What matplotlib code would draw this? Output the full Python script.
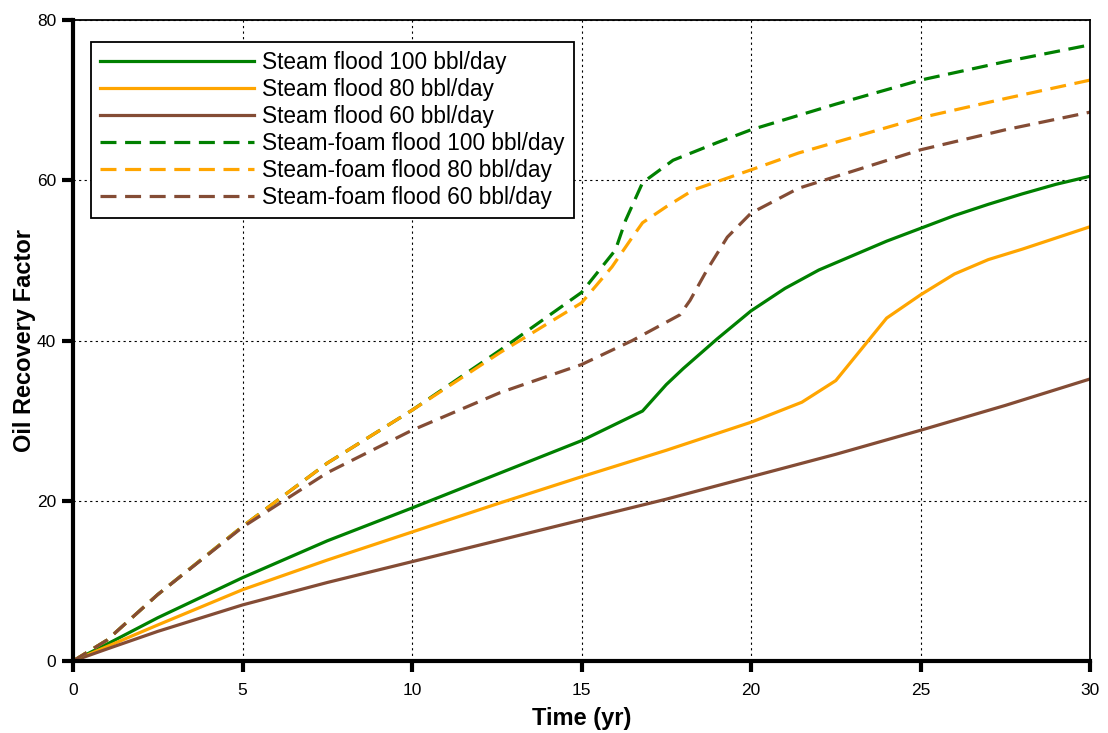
import matplotlib
matplotlib.use("Agg")
import matplotlib.pyplot as plt

plt.rcParams['font.family'] = ['Liberation Sans', 'DejaVu Sans']

# steam flood (solid)
sf100_t = [0, 1, 2.5, 5, 7.5, 10, 12.5, 15, 16.8, 17.5, 18, 19, 20, 21, 22, 23, 24, 25, 26, 27, 28, 29, 30]
sf100_y = [0, 2.1, 5.4, 10.4, 15, 19.1, 23.3, 27.5, 31.2, 34.5, 36.5, 40.2, 43.7, 46.5, 48.8, 50.6, 52.4, 54, 55.6, 57, 58.3, 59.5, 60.5]

sf80_t = [0, 1, 2.5, 5, 7.5, 10, 12.5, 15, 17.5, 20, 21.5, 22.5, 23, 23.5, 24, 25, 26, 27, 28, 29, 30]
sf80_y = [0, 1.8, 4.5, 8.9, 12.6, 16.1, 19.6, 23, 26.3, 29.8, 32.3, 35, 37.6, 40.2, 42.8, 45.7, 48.3, 50.1, 51.4, 52.8, 54.2]

sf60_t = [0, 1, 2.5, 5, 7.5, 10, 12.5, 15, 17.5, 20, 22.5, 25, 27.5, 30]
sf60_y = [0, 1.5, 3.7, 7.0, 9.8, 12.4, 15, 17.6, 20.2, 23, 25.8, 28.8, 31.9, 35.2]

# steam-foam flood (dashed)
sff100_t = [0, 1, 2.5, 5, 7.5, 10, 12.6, 15, 16.0, 16.3, 16.8, 17.7, 19, 20, 22.5, 25, 27.5, 30]
sff100_y = [0, 2.6, 8.3, 16.8, 24.7, 31.3, 38.8, 46, 51.3, 55, 59.7, 62.5, 64.7, 66.3, 69.5, 72.5, 74.8, 76.9]

sff80_t = [0, 1, 2.5, 5, 7.5, 10, 12.6, 15, 15.9, 16.5, 16.8, 17.5, 18.3, 20, 21.4, 25, 27.5, 30]
sff80_y = [0, 2.6, 8.3, 16.8, 24.7, 31.3, 38.5, 44.7, 49.2, 52.9, 54.7, 56.7, 58.8, 61.3, 63.4, 67.8, 70.2, 72.5]

sff60_t = [0, 1, 2.5, 5, 7.5, 10, 12.6, 15, 16.5, 17.9, 18.2, 18.7, 19.3, 20, 21.4, 25, 27.5, 30]
sff60_y = [0, 2.6, 8.3, 16.7, 23.5, 28.8, 33.5, 37, 40, 43.2, 45, 48.8, 52.9, 55.9, 59, 63.8, 66.3, 68.5]

green = '#008000'
orange = '#FFA500'
brown = '#844C35'

fig = plt.figure(figsize=(11.08, 7.33), dpi=100)
ax = fig.add_axes([0.0659, 0.0982, 0.9179, 0.8745])

lw = 2.3
dash = (5, 2.7)
ax.plot(sf100_t, sf100_y, color=green, lw=lw, label='Steam flood 100 bbl/day')
ax.plot(sf80_t, sf80_y, color=orange, lw=lw, label='Steam flood 80 bbl/day')
ax.plot(sf60_t, sf60_y, color=brown, lw=lw, label='Steam flood 60 bbl/day')
ax.plot(sff100_t, sff100_y, color=green, lw=lw, dashes=dash, label='Steam-foam flood 100 bbl/day')
ax.plot(sff80_t, sff80_y, color=orange, lw=lw, dashes=dash, label='Steam-foam flood 80 bbl/day')
ax.plot(sff60_t, sff60_y, color=brown, lw=lw, dashes=dash, label='Steam-foam flood 60 bbl/day')

ax.set_xlim(0, 30)
ax.set_ylim(0, 80)
ax.set_xticks([0, 5, 10, 15, 20, 25, 30])
ax.set_yticks([0, 20, 40, 60, 80])
ax.grid(True, color='black', linestyle=(0, (2, 3)), linewidth=0.8)
ax.tick_params(direction='out', length=8, width=3, labelsize=12.5, pad=4)
ax.tick_params(axis='x', pad=8)

for side in ['left', 'bottom']:
    ax.spines[side].set_linewidth(3)
for side in ['top', 'right']:
    ax.spines[side].set_linewidth(1.3)

ax.set_xlabel('Time (yr)', fontsize=17, fontweight='bold', labelpad=6)
ax.set_ylabel('Oil Recovery Factor', fontsize=17, fontweight='bold', labelpad=1)

leg = ax.legend(loc='upper left', bbox_to_anchor=(0.018, 0.966), fontsize=16.3,
                handlelength=6.8, labelspacing=0.18, handletextpad=0.35,
                fancybox=False, framealpha=1, edgecolor='black', borderpad=0.4,
                borderaxespad=0)
leg.get_frame().set_linewidth(1.3)

plt.savefig('out.png')
